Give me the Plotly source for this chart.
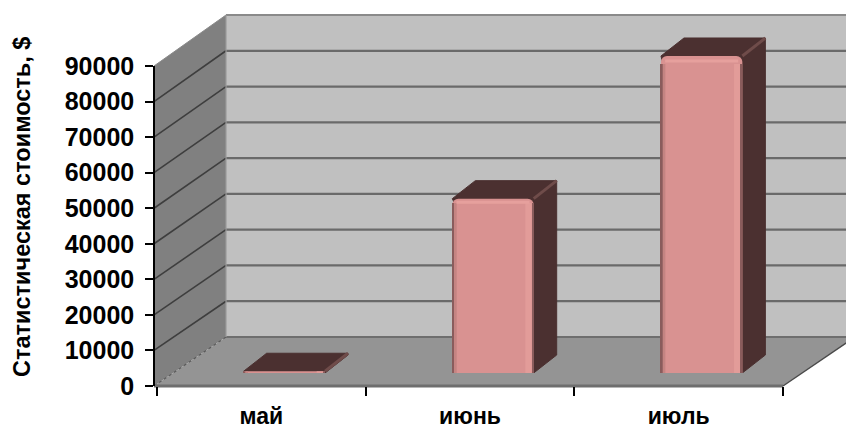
import plotly.graph_objects as go

categories = ["май", "июнь", "июль"]
values = [500, 49500, 90000]
y_ticks = [0, 10000, 20000, 30000, 40000, 50000, 60000, 70000, 80000, 90000]
y_title = "Статистическая стоимость, $"

W, H = 846, 430
FONT = "Liberation Sans"


def px(x):
    return x / W


def py(y):
    return 1 - y / H


# front plane (pixels), back wall (pixels)
X0, X1, Y0, Y1 = 157, 783, 386, 66
BACK_X, BACK_Y0, BACK_Y1 = 226, 337, 15
# bar plane: 0 at BY0, 90000 at BY90; axis extends to 100000 so bar depth is not clipped
BX0, BX1, BY0, BY90 = 180, 806, 373, 56
Y_MAX = 100000
BY1 = BY0 - (BY0 - BY90) * Y_MAX / 90000
BAR_W = 0.39
BAR_DX = 23 / ((BX1 - BX0) / 3)
BAR_DY = 18 / ((BY0 - BY90) / 90000)

fig = go.Figure()

# Depth faces of the bars
for i, v in enumerate(values):
    l, r = i - BAR_W / 2, i + BAR_W / 2
    fig.add_trace(go.Scatter(
        x=[r, r + BAR_DX, r + BAR_DX, l + BAR_DX, l, r],
        y=[0, BAR_DY, v + BAR_DY, v + BAR_DY, v, 0],
        mode="lines", fill="toself", fillcolor="#4b3030",
        line=dict(color="#4b3030", width=1), xaxis="x2", yaxis="y2",
        hoverinfo="skip", showlegend=False))
    fig.add_trace(go.Scatter(
        x=[r, r + BAR_DX], y=[v, v + BAR_DY], mode="lines",
        line=dict(color="#6f4c4a", width=3), xaxis="x2", yaxis="y2",
        hoverinfo="skip", showlegend=False))

# Front faces
fig.add_trace(go.Bar(x=[0, 1, 2], y=values, width=BAR_W, marker=dict(color="#d99291", cornerradius=6, line_width=0),
                     xaxis="x3", yaxis="y3", showlegend=False))
fig.add_trace(go.Bar(x=[0, 1, 2], y=[v * 0.975 for v in values], width=0.009,
                     offset=-BAR_W / 2, marker=dict(color="#8a5c5c", line_width=0),
                     xaxis="x3", yaxis="y3", showlegend=False))
fig.add_trace(go.Bar(x=[0, 1, 2], y=[v * 0.975 for v in values], width=0.012,
                     offset=-BAR_W / 2 + 0.009, marker=dict(color="#c48482", line_width=0),
                     xaxis="x3", yaxis="y3", showlegend=False))
fig.add_trace(go.Bar(x=[0, 1, 2], y=[v * 0.975 for v in values], width=0.03,
                     offset=BAR_W / 2 - 0.04, marker=dict(color="#e29c99", line_width=0),
                     xaxis="x3", yaxis="y3", showlegend=False))
fig.add_trace(go.Bar(x=[0, 1, 2], y=[v * 0.975 for v in values], width=0.008,
                     offset=BAR_W / 2 - 0.008, marker=dict(color="#8a5c5c", line_width=0),
                     xaxis="x3", yaxis="y3", showlegend=False))
# Soft highlight along the top of each front face
for i, v in enumerate(values):
    if v > 5000:
        fig.add_trace(go.Scatter(
            x=[i - BAR_W / 2 + 0.02, i + BAR_W / 2 - 0.02], y=[v * 0.99 - 500, v * 0.99 - 500],
            mode="lines", line=dict(color="#e6a09d", width=3), xaxis="x3", yaxis="y3",
            hoverinfo="skip", showlegend=False))


def poly(points, fill, line=None, width=0, layer="below"):
    path = "M" + " L".join(f"{px(a):.5f},{py(b):.5f}" for a, b in points) + " Z"
    return dict(type="path", path=path, xref="paper", yref="paper", fillcolor=fill,
                line=dict(color=line or fill, width=width), layer=layer)


def seg(a, b, c, d, color, width, dash="solid"):
    return dict(type="line", xref="paper", yref="paper", x0=px(a), y0=py(b), x1=px(c), y1=py(d),
                line=dict(color=color, width=width, dash=dash), layer="below")


AX = 154
shapes = [
    poly([(BACK_X, BACK_Y1), (W + 20, BACK_Y1), (W + 20, BACK_Y0), (BACK_X, BACK_Y0)], "#c0c0c0"),
    poly([(AX, Y1), (BACK_X, BACK_Y1), (BACK_X, BACK_Y0), (AX, Y0)], "#808080"),
    poly([(AX, Y0), (BACK_X, BACK_Y0), (X1 + 72, BACK_Y0), (X1, Y0)], "#949494"),
]
for t in y_ticks:
    y = Y0 + (Y1 - Y0) * t / 90000
    by = BACK_Y0 + (BACK_Y1 - BACK_Y0) * t / 90000
    if t == 0:
        shapes.append(seg(AX, y, BACK_X, by, "#5a5a5a", 1.2, "dot"))
        shapes.append(seg(BACK_X, by, W, by, "#6e6e6e", 2))
    elif t == 90000:
        shapes.append(seg(AX, y, BACK_X, by, "#8a8a8a", 1))
        shapes.append(seg(BACK_X, by, W, by, "#8a8a8a", 2))
    else:
        shapes.append(seg(AX, y, BACK_X, by, "#3e3e3e", 1.6))
        shapes.append(seg(BACK_X, by, W, by, "#6a6a6a", 2.2))
shapes.append(seg(BACK_X, BACK_Y1, BACK_X, BACK_Y0, "#9a9a9a", 1.2))
shapes.append(seg(AX, Y0, X1, Y0, "#6e6e6e", 3))
shapes.append(seg(X1, Y0, X1 + 72, BACK_Y0, "#4a4a4a", 1.4))

fig.update_layout(
    width=W, height=H, margin=dict(l=0, r=0, t=0, b=0, pad=0),
    paper_bgcolor="white", plot_bgcolor="rgba(0,0,0,0)",
    barmode="overlay", shapes=shapes, showlegend=False,
    font=dict(family=FONT, color="black"),
    xaxis=dict(domain=[px(X0), px(X1)], type="category", categoryorder="array", categoryarray=categories,
               tickmode="array", tickvals=categories, ticktext=categories, automargin=False,
               range=[-0.5, 2.5], tickson="boundaries", ticks="outside", ticklen=9, tickcolor="black",
               tickwidth=1.5, showgrid=False, zeroline=False, showline=False, anchor="y",
               ticklabelstandoff=14,
               tickfont=dict(size=23, family=FONT, weight="bold")),
    yaxis=dict(domain=[py(Y0), py(Y1)], range=[0, 90000], tickmode="array", tickvals=y_ticks, automargin=False,
               ticks="outside", ticklen=8, tickcolor="black", tickwidth=1.5, showgrid=False, zeroline=False,
               showline=True, linecolor="black", linewidth=1.5, anchor="free", position=px(AX),
               ticklabelstandoff=6, tickformat="d",
               tickfont=dict(size=25, family=FONT, weight="bold")),
    xaxis2=dict(domain=[px(BX0), min(1, px(BX1))], range=[-0.5, 2.5], visible=False, anchor="y2"),
    yaxis2=dict(domain=[py(BY0), py(BY1)], range=[0, Y_MAX], visible=False, anchor="x2"),
    xaxis3=dict(domain=[px(BX0), min(1, px(BX1))], range=[-0.5, 2.5], visible=False, anchor="y3"),
    yaxis3=dict(domain=[py(BY0), py(BY1)], range=[0, Y_MAX], visible=False, anchor="x3"),
    annotations=[dict(text=y_title, xref="paper", yref="paper", x=px(22), y=py(207),
                      xanchor="center", yanchor="middle", textangle=-90, showarrow=False,
                      font=dict(size=23.5, family=FONT, color="black", weight="bold"))],
)
# keep an (invisible) trace on the primary axes so that they are drawn
fig.add_trace(go.Scatter(x=categories, y=[0, 0, 0], mode="markers", marker=dict(opacity=0),
                         hoverinfo="skip", showlegend=False))

fig.write_html("out.html", config=dict(displayModeBar=False),
               post_script="document.body.style.margin='0';")
